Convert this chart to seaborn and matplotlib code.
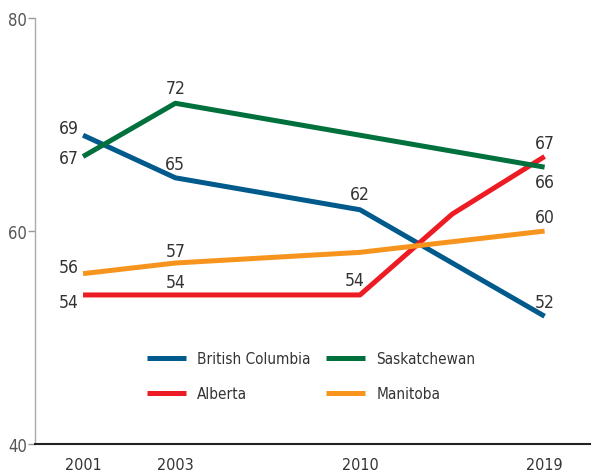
import pandas as pd
import seaborn as sns
from matplotlib import pyplot as plt

# Data (x positions on the chart are not proportional to years)
years = ['2001', '2003', '2010', '', '2019']
year_pos = [0, 1, 3, 4, 5]
tick_idx = [0, 1, 2, 4]

provinces = ['British Columbia', 'Alberta', 'Saskatchewan', 'Manitoba']
british_columbia = [69, 65, 62, None, 52]
alberta = [54, 54, 54, 61.6, 67]
saskatchewan = [67, 72, None, None, 66]
manitoba = [56, 57, 58, None, 60]

colors = {'British Columbia': '#005a8c', 'Saskatchewan': '#00703c',
          'Alberta': '#ed1c24', 'Manitoba': '#f7941d'}

series = dict(zip(provinces, [british_columbia, alberta, saskatchewan, manitoba]))
rows = []
for prov, vals in series.items():
    for p, v in zip(year_pos, vals):
        if v is not None:
            rows.append({'pos': p, 'value': v, 'province': prov})
df = pd.DataFrame(rows)

sns.set_style('white')
plt.rcParams['font.family'] = ['Liberation Sans Narrow', 'DejaVu Sans']
plt.rcParams['font.stretch'] = 'condensed'
plt.rcParams['text.color'] = '#333333'

fig = plt.figure(figsize=(5.94, 4.77), dpi=100)
ax = fig.add_axes([0.059, 0.067, 0.934, 0.893])

sns.lineplot(data=df, x='pos', y='value', hue='province', hue_order=provinces,
             palette=colors, linewidth=3.6, ax=ax, solid_capstyle='butt')

# value labels: (province, index into years, dx, dy in points)
labels = [
    ('British Columbia', 0, -10, 5), ('British Columbia', 1, 0, 10),
    ('British Columbia', 2, 0, 11), ('British Columbia', 4, 0, 10),
    ('Saskatchewan', 0, -10, -1), ('Saskatchewan', 1, 0, 11),
    ('Saskatchewan', 4, 0, -11),
    ('Alberta', 0, -10, -5), ('Alberta', 1, 0, 9), ('Alberta', 2, -4, 11),
    ('Alberta', 4, 0, 10),
    ('Manitoba', 0, -10, 5), ('Manitoba', 1, 0, 9), ('Manitoba', 4, 0, 10),
]
for prov, i, dx, dy in labels:
    v = series[prov][i]
    ax.annotate(f'{v:.0f}', (year_pos[i], v), xytext=(dx, dy),
                textcoords='offset points', ha='center', va='center',
                fontsize=12.5, color='#333333')

ax.set_xlim(-0.52, 5.49)
ax.set_ylim(40, 80)
ax.set_yticks([40, 60, 80])
ax.set_xticks([year_pos[i] for i in tick_idx])
ax.set_xticklabels([years[i] for i in tick_idx])
ax.set_xlabel('')
ax.set_ylabel('')
ax.tick_params(axis='y', left=True, length=5, width=1, color='#999999',
               labelsize=12, labelcolor='#555555', pad=1)
ax.tick_params(axis='x', bottom=False, labelsize=11.5, labelcolor='#333333', pad=6)

for s in ['top', 'right']:
    ax.spines[s].set_visible(False)
ax.spines['left'].set_color('#aaaaaa')
ax.spines['left'].set_linewidth(1)
ax.spines['bottom'].set_color('#222222')
ax.spines['bottom'].set_linewidth(1.5)

handles, labs = ax.get_legend_handles_labels()
ax.legend(handles, labs, ncol=2, frameon=False, loc='upper left',
          bbox_to_anchor=(0.19, 0.232), fontsize=11, handlelength=2.6,
          handletextpad=0.7, columnspacing=1.0, labelspacing=1.3,
          borderaxespad=0)

fig.savefig('out.png', dpi=100)
